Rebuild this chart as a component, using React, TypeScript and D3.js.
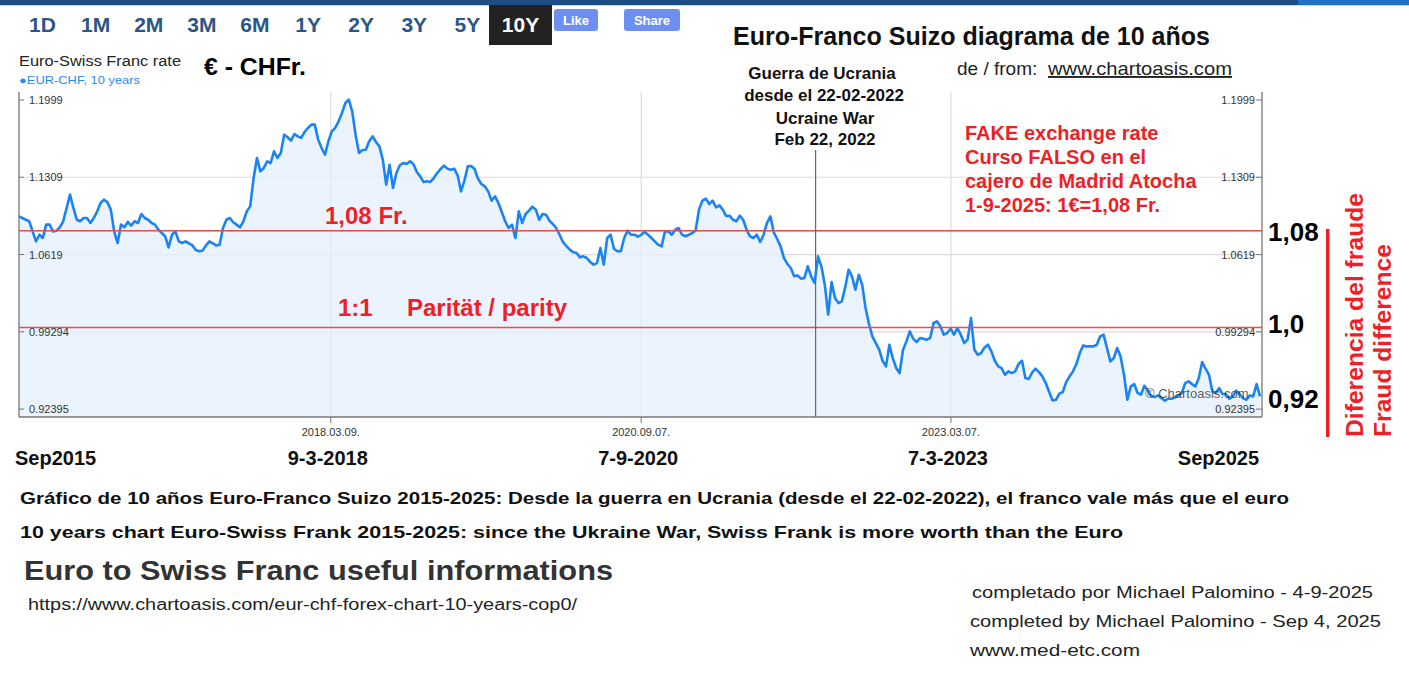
import React from 'react';
import * as d3 from 'd3';

// ---------- data ----------
const startDate = '2015-09-04';
const endDate = '2025-09-04';
const stepDays = 10;
const rates = [
  1.0960, 1.0945, 1.0930, 1.0916, 1.0826, 1.0737, 1.0796, 1.0767, 1.0886, 1.0886,
  1.0826, 1.0832, 1.0862, 1.0916, 1.1035, 1.1154, 1.1035, 1.0930, 1.0916, 1.0945,
  1.0945, 1.0901, 1.0945, 1.1005, 1.1079, 1.1109, 1.1085, 1.1020, 1.0826, 1.0722,
  1.0886, 1.0862, 1.0910, 1.0877, 1.0916, 1.0901, 1.0981, 1.0945, 1.0930, 1.0901,
  1.0886, 1.0841, 1.0811, 1.0782, 1.0683, 1.0796, 1.0826, 1.0737, 1.0722, 1.0737,
  1.0719, 1.0701, 1.0660, 1.0648, 1.0654, 1.0701, 1.0737, 1.0719, 1.0701, 1.0707,
  1.0856, 1.0930, 1.0945, 1.0907, 1.0886, 1.0862, 1.0916, 1.1005, 1.1049, 1.1302,
  1.1481, 1.1362, 1.1392, 1.1451, 1.1436, 1.1541, 1.1481, 1.1526, 1.1689, 1.1666,
  1.1636, 1.1695, 1.1674, 1.1660, 1.1713, 1.1749, 1.1779, 1.1779, 1.1645, 1.1570,
  1.1511, 1.1630, 1.1719, 1.1749, 1.1808, 1.1883, 1.1972, 1.2002, 1.1898, 1.1689,
  1.1526, 1.1552, 1.1555, 1.1630, 1.1674, 1.1624, 1.1585, 1.1466, 1.1243, 1.1421,
  1.1213, 1.1347, 1.1416, 1.1436, 1.1427, 1.1451, 1.1427, 1.1356, 1.1317, 1.1267,
  1.1273, 1.1267, 1.1302, 1.1347, 1.1383, 1.1413, 1.1386, 1.1377, 1.1386, 1.1326,
  1.1183, 1.1279, 1.1407, 1.1410, 1.1383, 1.1296, 1.1249, 1.1228, 1.1183, 1.1100,
  1.1139, 1.1079, 1.0999, 1.0916, 1.0856, 1.0886, 1.0767, 1.1005, 1.0901, 1.0981,
  1.1011, 1.1046, 1.1020, 1.0930, 1.0981, 1.0975, 1.0921, 1.0892, 1.0856, 1.0796,
  1.0731, 1.0695, 1.0663, 1.0639, 1.0633, 1.0594, 1.0603, 1.0588, 1.0552, 1.0529,
  1.0543, 1.0677, 1.0529, 1.0767, 1.0796, 1.0671, 1.0648, 1.0648, 1.0767, 1.0832,
  1.0796, 1.0796, 1.0779, 1.0794, 1.0823, 1.0796, 1.0767, 1.0737, 1.0707, 1.0692,
  1.0826, 1.0826, 1.0796, 1.0841, 1.0856, 1.0796, 1.0782, 1.0796, 1.0811, 1.0832,
  1.1020, 1.1100, 1.1118, 1.1070, 1.1100, 1.1041, 1.1058, 1.1020, 1.0963, 1.0966,
  1.0930, 1.0916, 1.0966, 1.0930, 1.0841, 1.0782, 1.0767, 1.0796, 1.0731, 1.0796,
  1.0901, 1.0960, 1.0817, 1.0758, 1.0692, 1.0588, 1.0535, 1.0499, 1.0425, 1.0433,
  1.0404, 1.0410, 1.0514, 1.0425, 1.0365, 1.0603, 1.0514, 1.0350, 1.0082, 1.0374,
  1.0231, 1.0186, 1.0201, 1.0326, 1.0484, 1.0425, 1.0305, 1.0439, 1.0350, 1.0142,
  0.9999, 0.9889, 0.9829, 0.9770, 0.9671, 0.9621, 0.9814, 0.9695, 0.9606, 0.9561,
  0.9767, 0.9844, 0.9933, 0.9868, 0.9838, 0.9874, 0.9868, 0.9859, 0.9874, 1.0008,
  1.0023, 0.9978, 0.9904, 0.9919, 0.9957, 0.9904, 0.9963, 0.9904, 0.9829, 0.9859,
  1.0052, 0.9770, 0.9725, 0.9740, 0.9790, 0.9814, 0.9755, 0.9671, 0.9621, 0.9606,
  0.9546, 0.9576, 0.9561, 0.9576, 0.9642, 0.9671, 0.9517, 0.9508, 0.9567, 0.9600,
  0.9570, 0.9532, 0.9472, 0.9392, 0.9317, 0.9323, 0.9377, 0.9392, 0.9481, 0.9532,
  0.9576, 0.9642, 0.9740, 0.9808, 0.9799, 0.9799, 0.9799, 0.9814, 0.9889, 0.9904,
  0.9785, 0.9665, 0.9695, 0.9785, 0.9710, 0.9546, 0.9323, 0.9442, 0.9463, 0.9383,
  0.9368, 0.9448, 0.9407, 0.9356, 0.9347, 0.9362, 0.9338, 0.9314, 0.9332, 0.9332,
  0.9344, 0.9362, 0.9383, 0.9472, 0.9487, 0.9463, 0.9442, 0.9517, 0.9660, 0.9600,
  0.9546, 0.9398, 0.9383, 0.9427, 0.9374, 0.9374, 0.9332, 0.9353, 0.9404, 0.9374,
  0.9338, 0.9323, 0.9362, 0.9353, 0.9463, 0.9353,
];
const yTicks = [1.1999, 1.1309, 1.0619, 0.99294, 0.92395];
const yGridTicks = [1.1309, 1.0619, 0.99294];
const yDomain = [0.9169, 1.207];
const xTickDates = ['2018-03-09', '2020-09-07', '2023-03-07'];
const bottomLabels = ['Sep2015', '9-3-2018', '7-9-2020', '7-3-2023', 'Sep2025'];
const bottomLabelDates = ['2015-09-04', '2018-03-09', '2020-09-07', '2023-03-07', '2025-09-04'];
const refLineValues = [1.0832, 0.9969];
const rightLabels = ['1,08', '1,0', '0,92'];
const warLineDate = '2022-02-02';
const periods = ['1D', '1M', '2M', '3M', '6M', '1Y', '2Y', '3Y', '5Y', '10Y'];
const activePeriod = '10Y';

// ---------- layout ----------
const W = 1409, H = 677;
const L = 19, R = 1262, T = 92, B = 417;
const FONT = 'Liberation Sans, Arial, Helvetica, sans-serif';
const RED = '#ee1f26';
const parse = d3.timeParse('%Y-%m-%d');

export default function App() {
  const t0 = parse(startDate)!;
  const data = rates.map((v, i) => ({ date: d3.timeDay.offset(t0, i * stepDays), v }));
  const x = d3.scaleTime().domain([t0, parse(endDate)!]).range([L, R - 1]);
  const y = d3.scaleLinear().domain(yDomain).range([B, T]);
  const area = d3.area<any>().x(d => x(d.date)).y0(B).y1(d => y(d.v))(data) || '';
  const line = d3.line<any>().x(d => x(d.date)).y(d => y(d.v))(data) || '';
  const fmt = d3.timeFormat('%Y.%m.%d.');
  const pScale = d3.scalePoint().domain(periods).range([42.5, 520.5]);
  const warX = x(parse(warLineDate)!);
  const rightLabelY = [241, 333, 408];

  return (
    <svg width={W} height={H} style={{ position: 'absolute', left: 0, top: 0, background: '#fff' }} fontFamily={FONT}>
      <rect x={0} y={0} width={W} height={H} fill="#fff" />
      {/* top bar */}
      <rect x={0} y={0} width={1298} height={5} fill="#1c4d85" />
      <rect x={1298} y={0} width={W - 1298} height={5} fill="#1f6fc2" />
      <rect x={0} y={5} width={W} height={1} fill="#c9d8ea" />

      {/* period buttons */}
      <rect x={489} y={5} width={63} height={40} fill="#222" />
      {periods.map(p => (
        <text key={p} x={pScale(p)} y={32} textAnchor="middle" fontSize={21} fontWeight="bold"
          fill={p === activePeriod ? '#fff' : '#2b5587'}>{p}</text>
      ))}
      <rect x={554} y={9} width={44} height={22} rx={3} fill="#6e8ff2" />
      <text x={576} y={25} textAnchor="middle" fontSize={13} fontWeight="bold" fill="#fff">Like</text>
      <rect x={624} y={9} width={56} height={22} rx={3} fill="#6e8ff2" />
      <text x={652} y={25} textAnchor="middle" fontSize={13} fontWeight="bold" fill="#fff">Share</text>

      {/* header texts */}
      <text x={19} y={66} fontSize={14} fill="#222" textLength={162} lengthAdjust="spacingAndGlyphs">Euro-Swiss Franc rate</text>
      <text x={19} y={84} fontSize={11} fill="#2a8cf0" textLength={121} lengthAdjust="spacingAndGlyphs">●EUR-CHF, 10 years</text>
      <text x={204} y={75} fontSize={23} fontWeight="bold" fill="#000" textLength={102} lengthAdjust="spacingAndGlyphs">€ - CHFr.</text>
      <text x={733} y={45} fontSize={25} fontWeight="bold" fill="#111" textLength={477} lengthAdjust="spacingAndGlyphs">Euro-Franco Suizo diagrama de 10 años</text>
      <text x={957} y={75} fontSize={19} fill="#222">de / from:</text>
      <text x={1048} y={75} fontSize={19} fill="#222" textDecoration="underline" textLength={184} lengthAdjust="spacingAndGlyphs">www.chartoasis.com</text>

      {/* grid */}
      {yGridTicks.map(v => (
        <line key={v} x1={L} x2={R} y1={y(v)} y2={y(v)} stroke="#dcdcdc" strokeWidth={1.2} />
      ))}
      {xTickDates.map(d => (
        <line key={d} x1={x(parse(d)!)} x2={x(parse(d)!)} y1={T} y2={B} stroke="#dcdcdc" strokeWidth={1.2} />
      ))}

      {/* series */}
      <path d={area} fill="#e3f0fd" fillOpacity={0.72} />
      <path d={line} fill="none" stroke="#1a83f5" strokeWidth={2.6} strokeLinejoin="round" />

      {/* reference lines */}
      {refLineValues.map(v => (
        <line key={v} x1={L} x2={R} y1={y(v)} y2={y(v)} stroke="#f04a4a" strokeWidth={1.5} />
      ))}

      {/* war line */}
      <line x1={warX} x2={warX} y1={150} y2={B} stroke="#6a6a6a" strokeWidth={1.2} />
      <g fontSize={17} fontWeight="bold" fill="#111" textAnchor="middle">
        <text x={822} y={79}>Guerra de Ucrania</text>
        <text x={824} y={101}>desde el 22-02-2022</text>
        <text x={825} y={124}>Ucraine War</text>
        <text x={825} y={145}>Feb 22, 2022</text>
      </g>

      {/* axes */}
      <line x1={L} x2={L} y1={T} y2={B} stroke="#777" strokeWidth={1.3} />
      <line x1={R} x2={R} y1={T} y2={B} stroke="#777" strokeWidth={1.3} />
      <line x1={L} x2={R} y1={B} y2={B} stroke="#777" strokeWidth={1.3} />
      {yTicks.map(v => (
        <g key={v}>
          <line x1={L} x2={L + 5} y1={y(v)} y2={y(v)} stroke="#777" />
          <text x={L + 10} y={y(v) + 4} fontSize={11} fill="#333">{String(v)}</text>
          <line x1={R - 6} x2={R} y1={y(v)} y2={y(v)} stroke="#777" />
          <text x={R - 7} y={y(v) + 4} fontSize={11} fill="#333" textAnchor="end">{String(v)}</text>
        </g>
      ))}
      {xTickDates.map(d => (
        <g key={d}>
          <line x1={x(parse(d)!)} x2={x(parse(d)!)} y1={B} y2={B + 6} stroke="#777" />
          <text x={x(parse(d)!)} y={436} fontSize={11} fill="#333" textAnchor="middle">{fmt(parse(d)!)}</text>
        </g>
      ))}
      <text x={1145} y={398} fontSize={13} fill="#333" fillOpacity={0.8}>© Chartoasis.com</text>

      {/* red annotations */}
      <g fill={RED} fontWeight="bold">
        <text x={325} y={224} fontSize={24}>1,08 Fr.</text>
        <text x={338} y={316} fontSize={24}>1:1</text>
        <text x={407} y={316} fontSize={24}>Parität / parity</text>
        <text x={965} y={140} fontSize={20}>FAKE exchange rate</text>
        <text x={965} y={164} fontSize={20}>Curso FALSO en el</text>
        <text x={965} y={188} fontSize={20}>cajero de Madrid Atocha</text>
        <text x={965} y={212} fontSize={20}>1-9-2025: 1€=1,08 Fr.</text>
      </g>

      {/* right labels */}
      {rightLabels.map((s, i) => (
        <text key={s} x={1268} y={rightLabelY[i]} fontSize={26} fontWeight="bold" fill="#000">{s}</text>
      ))}
      <rect x={1326} y={229} width={3.5} height={208} fill={RED} />
      <text transform="translate(1363,437) rotate(-90)" fontSize={24} fontWeight="bold" fill={RED} textLength={244} lengthAdjust="spacingAndGlyphs">Diferencia del fraude</text>
      <text transform="translate(1391,437) rotate(-90)" fontSize={24} fontWeight="bold" fill={RED} textLength={193} lengthAdjust="spacingAndGlyphs">Fraud difference</text>

      {/* bottom date labels */}
      {bottomLabels.map((s, i) => {
        const anchor = i === 0 ? 'start' : i === bottomLabels.length - 1 ? 'end' : 'middle';
        const px = x(parse(bottomLabelDates[i])!) + (i === 0 ? -4 : i === bottomLabels.length - 1 ? -2 : -3);
        return <text key={s} x={px} y={465} fontSize={20} fontWeight="bold" fill="#111" textAnchor={anchor}>{s}</text>;
      })}

      {/* footer */}
      <text x={20} y={504} fontSize={17} fontWeight="bold" fill="#111" textLength={1269} lengthAdjust="spacingAndGlyphs">Gráfico de 10 años Euro-Franco Suizo 2015-2025: Desde la guerra en Ucrania (desde el 22-02-2022), el franco vale más que el euro</text>
      <text x={20} y={538} fontSize={17} fontWeight="bold" fill="#111" textLength={1103} lengthAdjust="spacingAndGlyphs">10 years chart Euro-Swiss Frank 2015-2025: since the Ukraine War, Swiss Frank is more worth than the Euro</text>
      <text x={24} y={580} fontSize={28} fontWeight="bold" fill="#333" textLength={589} lengthAdjust="spacingAndGlyphs">Euro to Swiss Franc useful informations</text>
      <text x={28} y={610} fontSize={16} fill="#222" textLength={549} lengthAdjust="spacingAndGlyphs">https://www.chartoasis.com/eur-chf-forex-chart-10-years-cop0/</text>
      <text x={972} y={598} fontSize={17} fill="#222" textLength={401} lengthAdjust="spacingAndGlyphs">completado por Michael Palomino - 4-9-2025</text>
      <text x={970} y={627} fontSize={17} fill="#222" textLength={411} lengthAdjust="spacingAndGlyphs">completed by Michael Palomino - Sep 4, 2025</text>
      <text x={970} y={656} fontSize={17} fill="#222" textLength={170} lengthAdjust="spacingAndGlyphs">www.med-etc.com</text>
    </svg>
  );
}
